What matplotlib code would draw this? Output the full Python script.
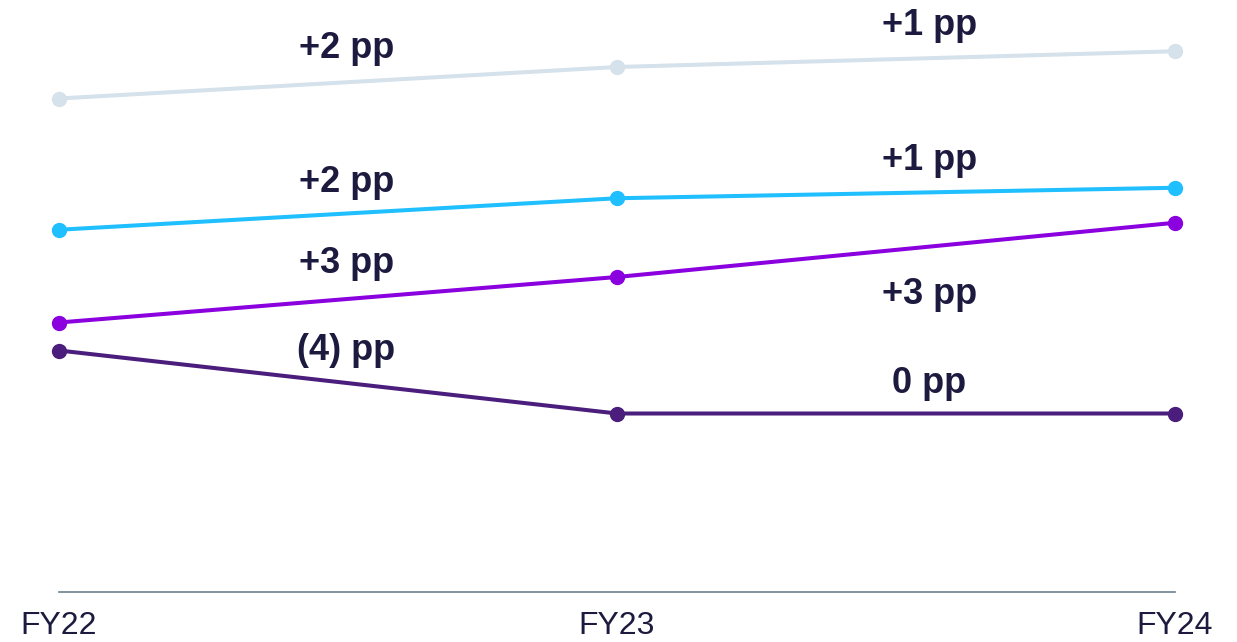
import matplotlib
matplotlib.use("Agg")
import matplotlib.pyplot as plt

plt.rcParams['font.family'] = ['Liberation Sans', 'DejaVu Sans']

years = ["FY22", "FY23", "FY24"]
series_a = [28.2, 30.0, 30.9]
series_b = [20.7, 22.5, 23.1]
series_c = [15.4, 18.0, 21.1]
series_d = [13.8, 10.2, 10.2]

colors = ["#d5e1eb", "#20bfff", "#8a00de", "#4b1d7c"]
text_color = "#1c1a3e"


def pp_label(delta):
    v = int(round(delta))
    if v > 0:
        return f"+{v} pp"
    if v < 0:
        return f"({-v}) pp"
    return "0 pp"


fig = plt.figure(figsize=(12.37, 6.42), dpi=100)
ax = fig.add_axes([59 / 1237, 50 / 642, (1175 - 59) / 1237, 592 / 642])

x = list(range(len(years)))
all_series = [series_a, series_b, series_c, series_d]
# vertical offsets (pixels, positive = below) of each change label from its segment
label_offsets = [(-34, -33), (-31, -32), (-36, 48), (-32, -30)]
label_x = [0.515, 1.56]

for vals, col, offs in zip(all_series, colors, label_offsets):
    ax.plot(x, vals, color=col, lw=2.9, marker="o", ms=10, clip_on=False,
            solid_capstyle="round", zorder=3)
    for i in range(len(vals) - 1):
        lx = label_x[i]
        frac = lx - i
        ly = vals[i] + (vals[i + 1] - vals[i]) * frac
        ax.annotate(pp_label(vals[i + 1] - vals[i]), (lx, ly),
                    xytext=(0, -offs[i]), textcoords="offset pixels",
                    ha="center", va="center", fontsize=26, fontweight="bold",
                    color=text_color)

ax.set_xlim(0, 2)
ax.set_ylim(0, 592 / 17.5)
ax.set_xticks(x)
ax.set_xticklabels(years, fontsize=23, color=text_color)
ax.tick_params(axis="x", length=0, pad=14)
ax.set_yticks([])
for side in ["left", "right", "top"]:
    ax.spines[side].set_visible(False)
ax.spines["bottom"].set_color("#6f808c")
ax.spines["bottom"].set_linewidth(1.2)

fig.savefig("out.png", dpi=100)
